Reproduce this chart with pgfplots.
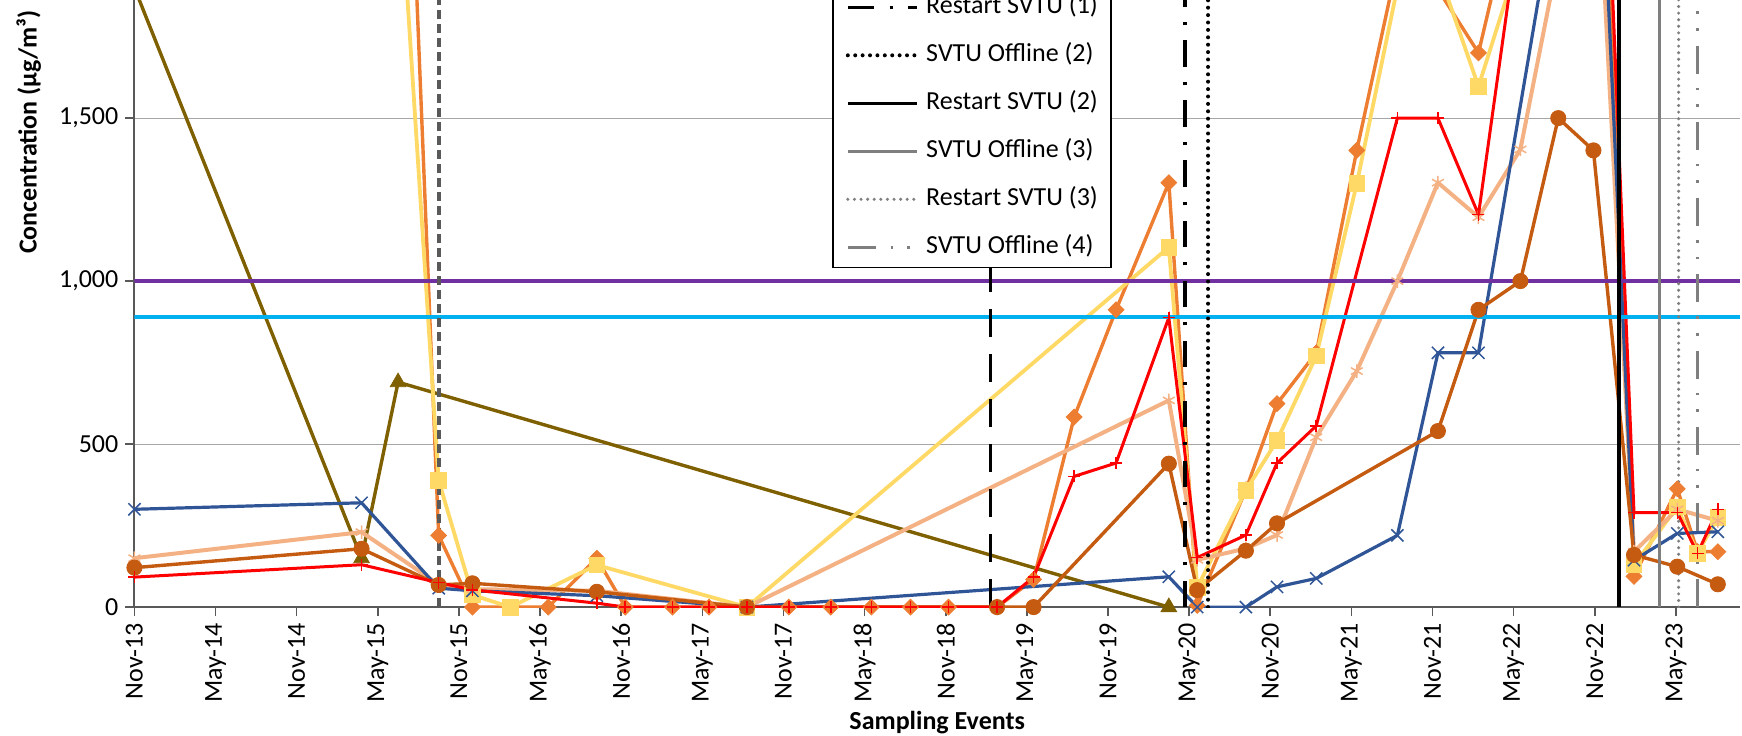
\documentclass[border=0pt]{standalone}
\usepackage{fontspec}
\setmainfont{Carlito}
\usepackage{pgfplots}
\usepackage{pgfplotstable}
\pgfplotsset{compat=1.18}

\definecolor{sBlue}{HTML}{2F5597}
\definecolor{sRed}{HTML}{FF0000}
\definecolor{sSalmon}{HTML}{F4B183}
\definecolor{sRust}{HTML}{C55A11}
\definecolor{sOlive}{HTML}{7F6000}
\definecolor{sYellow}{HTML}{FFD966}
\definecolor{sOrange}{HTML}{ED7D31}
\definecolor{limPurple}{HTML}{7030A0}
\definecolor{limCyan}{HTML}{00B0F0}
\definecolor{evGray}{HTML}{7F7F7F}
\definecolor{evDark}{HTML}{595959}
\definecolor{axGray}{HTML}{595959}
\definecolor{gridGray}{HTML}{A6A6A6}

% x = months after Nov-2013, y = concentration (ug/m3)
\pgfplotstableread{
m v
0 300
16.8 320
22.5 58
25.0 50
34.2 35
45.3 0
76.5 93
78.6 0
82.2 0
84.5 62
87.4 88
93.4 220
96.4 780
99.4 780
107.9 2860
110.9 144
114.1 226
117.1 231
}\blueTbl

\pgfplotstableread{
m v
0 92
16.8 130
22.5 75
25.0 53
34.2 12
36.3 0
39.8 0
42.5 0
45.3 0
48.4 0
51.5 0
54.5 0
57.4 0
60.2 0
63.8 0
66.5 92
69.5 401
72.6 442
76.5 888
78.6 152
82.2 221
84.5 442
87.4 556
93.4 1500
96.4 1500
99.4 1204
105.3 2960
107.9 3300
110.9 290
114.1 290
115.6 165
117.1 300
}\redTbl

\pgfplotstableread{
m v
0 150
16.8 230
22.5 70
25.0 55
34.2 50
45.3 0
76.5 634
78.6 145
82.2 180
84.5 221
87.4 521
90.4 724
93.4 1000
96.4 1302
99.4 1196
102.5 1404
107.9 2540
110.9 170
114.1 300
117.1 265
}\salmonTbl

\pgfplotstableread{
m v
0 121
16.8 179
22.5 68
25.0 73
34.2 47
45.3 0
63.8 0
66.5 0
76.5 440
78.6 52
82.2 173
84.5 257
96.4 540
99.4 912
102.5 1000
105.3 1500
107.9 1401
110.9 160
114.1 124
117.1 70
}\rustTbl

\pgfplotstableread{
m v
0 1900
16.8 150
19.5 690
76.5 0
}\oliveTbl

\pgfplotstableread{
m v
19.5 2310
22.5 389
25.0 37
27.8 0
34.2 129
45.3 0
76.5 1104
78.6 60
82.2 358
84.5 511
87.4 770
90.4 1299
93.4 1900
96.4 1955
99.4 1597
107.9 2710
110.9 129
114.1 307
115.6 165
117.1 276
}\yellowTbl

\pgfplotstableread{
m v
19.5 3290
22.5 220
25.0 0
30.6 0
34.2 150
36.3 0
39.8 0
42.5 0
45.3 0
48.4 0
51.5 0
54.5 0
57.4 0
60.2 0
63.8 0
66.5 85
69.5 583
72.6 912
76.5 1302
78.6 5
82.2 360
84.5 624
87.4 780
90.4 1401
93.4 1975
96.4 1895
99.4 1700
107.9 3200
110.9 94
114.1 363
115.6 170
117.1 170
}\orangeTbl

\begin{document}
\begin{tikzpicture}
\begin{axis}[
  scale only axis,
  width=802.8pt, height=309.7pt,
  xmin=0, xmax=118.74, ymin=0, ymax=1900,
  axis x line*=bottom, axis y line*=left,
  axis line style={draw=axGray, line width=1pt},
  xtick={0,6,...,114},
  xticklabels={Nov-13,May-14,Nov-14,May-15,Nov-15,May-16,Nov-16,May-17,Nov-17,May-18,Nov-18,May-19,Nov-19,May-20,Nov-20,May-21,Nov-21,May-22,Nov-22,May-23},
  ytick={0,500,1000,1500},
  ymajorgrids,
  grid style={draw=gridGray, line width=0.6pt},
  tick align=outside,
  major tick length=4.5pt,
  tick style={draw=axGray, line width=0.8pt},
  tick label style={font=\fontsize{13}{15}\selectfont},
  /pgf/number format/assume math mode=true,
  /pgf/number format/1000 sep={,},
  xticklabel style={rotate=90, anchor=east},
  yticklabel style={anchor=east},
  xlabel={Sampling Events},
  ylabel={Concentration (µg/m³)},
  label style={font=\fontsize{13}{15}\selectfont\bfseries},
  xlabel style={at={(axis description cs:0.5,-0.1978)}, anchor=base, inner sep=0pt},
  ylabel style={at={(axis description cs:-0.0579,0.7668)}, anchor=south, inner sep=0pt},
  legend style={
    at={(axis description cs:0.4345,0.5468)}, anchor=south west,
    draw=black, line width=0.8pt, fill=white,
    font=\fontsize{13}{15}\selectfont,
    inner xsep=6.5pt, inner ysep=3.9pt,
    row sep=11.5pt, column sep=3.4pt,
    nodes={inner sep=0pt, text height=9.5pt, text depth=3pt},
  },
  legend cell align=left,
  legend image code/.code={\draw[#1] (0pt,0pt) -- (34.8pt,0pt);},
]

% connecting lines of the monitored series
\addplot[draw=sOlive, line width=1.7pt, forget plot] table[x=m,y=v] {\oliveTbl};
\addplot[draw=sOrange, line width=1.7pt, forget plot] table[x=m,y=v] {\orangeTbl};
\addplot[draw=sYellow, line width=1.9pt, forget plot] table[x=m,y=v] {\yellowTbl};
\addplot[draw=sSalmon, line width=2pt, forget plot] table[x=m,y=v] {\salmonTbl};
\addplot[draw=sBlue, line width=1.6pt, forget plot] table[x=m,y=v] {\blueTbl};
\addplot[draw=sRust, line width=1.7pt, forget plot] table[x=m,y=v] {\rustTbl};
\addplot[draw=sRed, line width=1.5pt, forget plot] table[x=m,y=v] {\redTbl};

% screening levels
\addplot[draw=limPurple, line width=2pt, forget plot] coordinates {(0,1000) (118.74,1000)};
\addplot[draw=limCyan, line width=2pt, forget plot] coordinates {(0,890) (118.74,890)};

% markers
\addplot[only marks, mark=triangle*, mark size=4.5pt, mark options={draw=sOlive, fill=sOlive, solid}, forget plot] table[x=m,y=v] {\oliveTbl};
\addplot[only marks, mark=square*, mark size=2.8pt, mark options={rotate=45, draw=sOrange, fill=sOrange, solid}, forget plot] table[x=m,y=v] {\orangeTbl};
\addplot[only marks, mark=square*, mark size=3.9pt, mark options={draw=sYellow, fill=sYellow, solid}, forget plot] table[x=m,y=v] {\yellowTbl};
\addplot[only marks, mark=asterisk, mark size=3.4pt, mark options={draw=sSalmon, line width=0.75pt, solid}, forget plot] table[x=m,y=v] {\salmonTbl};
\addplot[only marks, mark=x, mark size=4.3pt, mark options={draw=sBlue, line width=0.75pt, solid}, forget plot] table[x=m,y=v] {\blueTbl};
\addplot[only marks, mark=*, mark size=3.8pt, mark options={draw=sRust, fill=sRust, solid}, forget plot] table[x=m,y=v] {\rustTbl};
\addplot[only marks, mark=+, mark size=3pt, mark options={draw=sRed, line width=0.75pt, solid}, forget plot] table[x=m,y=v] {\redTbl};

% system events
\addplot[draw=evDark, line width=2pt, dash pattern=on 4.5pt off 2.5pt, forget plot] coordinates {(22.5,0) (22.5,1900)};
\addplot[draw=black, line width=1.8pt, dash pattern=on 14pt off 8.5pt, forget plot] coordinates {(63.3,0) (63.3,1900)};
\addplot[draw=black, line width=1.7pt, dash pattern=on 13.3pt off 7.6pt on 1.5pt off 7.6pt] coordinates {(77.7,0) (77.7,1900)};
\addlegendentry{Restart SVTU (1)}
\addplot[draw=black, line width=2pt, line cap=round, dash pattern=on 0pt off 3.7pt] coordinates {(79.4,0) (79.4,1900)};
\addlegendentry{SVTU Offline (2)}
\addplot[draw=black, line width=1.7pt] coordinates {(109.8,0) (109.8,1900)};
\addlegendentry{Restart SVTU (2)}
\addplot[draw=evGray, line width=1.7pt] coordinates {(112.8,0) (112.8,1900)};
\addlegendentry{SVTU Offline (3)}
\addplot[draw=evGray, line width=1.7pt, line cap=round, dash pattern=on 0pt off 3.3pt] coordinates {(114.2,0) (114.2,1900)};
\addlegendentry{Restart SVTU (3)}
\addplot[draw=evGray, line width=1.6pt, dash pattern=on 14pt off 7.5pt on 1.3pt off 7pt on 1.3pt off 7pt] coordinates {(115.6,0) (115.6,1900)};
\addlegendentry{SVTU Offline (4)}
\end{axis}
\pgfresetboundingbox
\useasboundingbox (-67.2pt,-63.95pt) rectangle (803.8pt,303.55pt);
\end{tikzpicture}
\end{document}
